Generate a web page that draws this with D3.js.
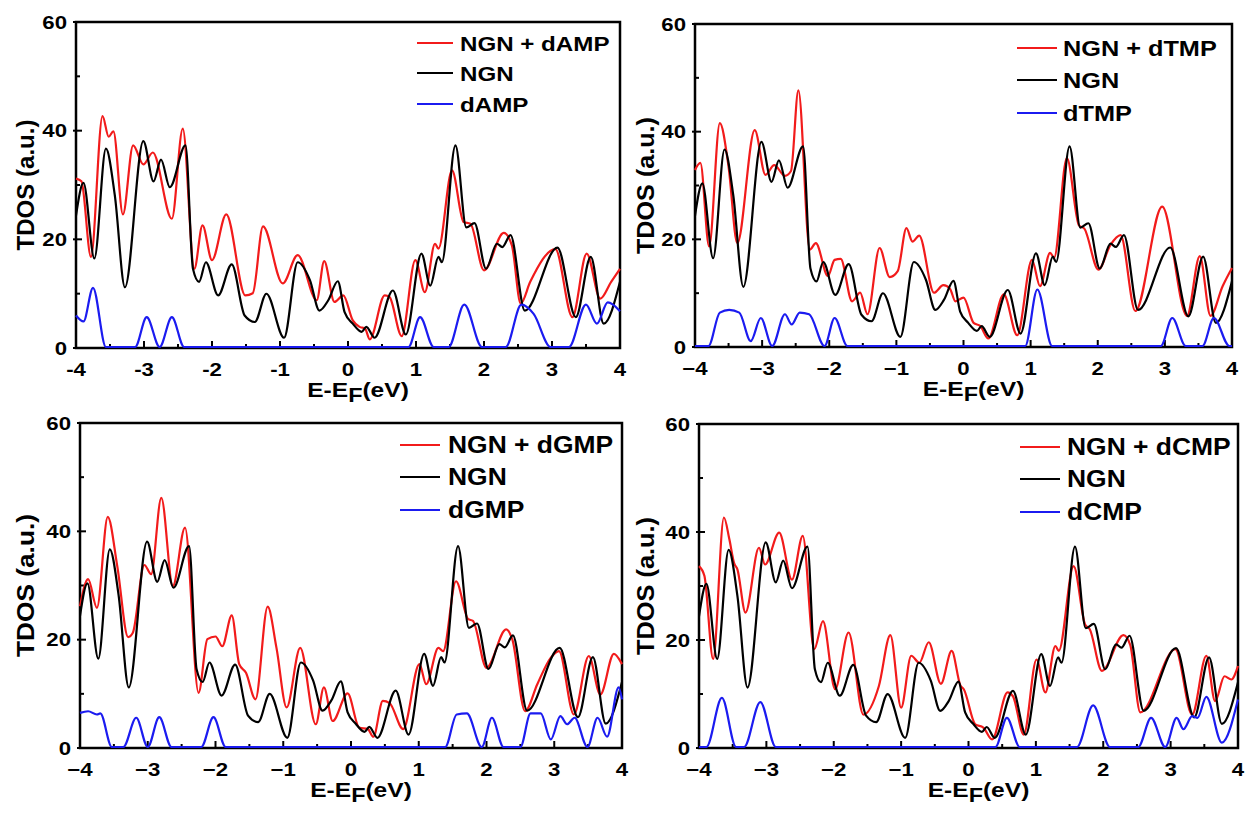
<!DOCTYPE html>
<html>
<head>
<meta charset="utf-8">
<script src="https://cdn.jsdelivr.net/npm/d3@7"></script>
<style>
  body { margin: 0; background: #fff; }
  svg { display: block; }
  text { font-family: "Liberation Sans", Arial, Helvetica, sans-serif; font-weight: bold; fill: #000; }
</style>
</head>
<body>
<script>
// pristine NGN TDOS (same black curve in every panel), [E-EF, TDOS]
const ngn = [[-4,24.2],[-3.89,30.2],[-3.73,16.3],[-3.56,36.5],[-3.43,28],[-3.28,11],[-3.01,37.9],[-2.86,30.5],
  [-2.75,34.5],[-2.62,29.4],[-2.39,37.1],[-2.28,14.4],[-2.19,12],[-2.09,15.6],[-1.91,9.5],[-1.71,15.2],[-1.52,5.8],
  [-1.37,4.6],[-1.2,9.8],[-0.94,1.7],[-0.74,15.6],[-0.56,12.3],[-0.42,6.7],[-0.29,8.6],[-0.15,12.1],[-0.05,6.4],
  [0.07,4.3],[0.2,2.8],[0.27,3.7],[0.39,1.7],[0.66,10.4],[0.85,2.3],[1.08,17.2],[1.21,11.3],[1.33,16.6],[1.38,15.6],
  [1.58,37.1],[1.74,22],[1.86,22.8],[2.03,14.4],[2.19,19],[2.27,18.4],[2.39,20.6],[2.6,6.7],[3.08,18.3],[3.35,5.5],
  [3.57,16.6],[3.76,4.3],[4,12]];

const dampTotal = [[-4,31],[-3.92,30.5],[-3.78,16.6],[-3.61,42.5],[-3.52,38.7],[-3.45,39.7],[-3.31,24.4],[-3.16,37.1],
  [-3.01,33.6],[-2.87,35.8],[-2.59,23.6],[-2.43,40.2],[-2.26,14.4],[-2.14,22.4],[-2,16],[-1.79,24.4],[-1.51,9.5],
  [-1.4,9.9],[-1.25,22.2],[-0.96,11.7],[-0.74,16.9],[-0.46,8.6],[-0.35,15.8],[-0.2,8.3],[-0.07,9.5],[0.07,4.9],
  [0.17,3.7],[0.25,3.4],[0.32,1.4],[0.54,9.5],[0.61,9.2],[0.79,2],[0.99,16],[1.13,10.1],[1.28,19],[1.33,18.1],
  [1.53,32.5],[1.7,23],[1.8,22.7],[2,14.1],[2.29,21],[2.41,18.7],[2.54,8],[2.68,12],[3.05,18],[3.3,5.5],[3.51,17.2],
  [3.71,8.9],[3.87,12],[4,14.4]];
const dampPdos = [[-4,5.8],[-3.89,4.7],[-3.75,10.9],[-3.56,0],[-3.13,0],[-2.96,5.5],[-2.77,0],[-2.59,5.5],[-2.41,0],
  [0.89,0],[1.06,5.5],[1.26,0],[1.48,0],[1.71,7.8],[1.97,0],[2.32,0],[2.55,7.8],[2.73,6.1],[2.98,0],[3.25,0],
  [3.5,7.8],[3.66,4.3],[3.82,8.2],[4,6.6]];

const dtmpTotal = [[-4,32.7],[-3.92,34],[-3.79,18.5],[-3.63,41.4],[-3.5,33.3],[-3.37,19.1],[-3.11,40.1],[-2.95,31.8],
  [-2.82,33.6],[-2.66,31.6],[-2.57,32.5],[-2.46,47.5],[-2.29,17.9],[-2.2,19.1],[-2.02,13],[-1.92,16],[-1.83,16.2],
  [-1.66,8.3],[-1.54,9.9],[-1.43,5.9],[-1.25,18.2],[-1.1,12.8],[-0.98,13.9],[-0.85,21.9],[-0.76,19.4],[-0.66,20.5],
  [-0.44,9.9],[-0.3,11.3],[-0.2,10.6],[-0.12,8.3],[0,9],[0.15,4.3],[0.25,3.7],[0.37,1.4],[0.6,9.6],[0.8,2],
  [1.02,16],[1.14,11.1],[1.29,17.3],[1.35,16.4],[1.54,34.9],[1.72,22.4],[1.8,21.8],[2.01,14.2],[2.19,18.8],
  [2.34,20.6],[2.56,6.5],[2.96,25.9],[3.33,5.6],[3.52,16.7],[3.68,5.6],[3.86,11.1],[4,14.5]];
const dtmpPdos = [[-4,0],[-3.8,0],[-3.63,6.2],[-3.49,6.7],[-3.34,6.2],[-3.17,0.9],[-3.02,5.2],[-2.85,0],[-2.66,5.9],
  [-2.56,4],[-2.44,6.2],[-2.3,5.9],[-2.07,0],[-1.92,5.2],[-1.73,0],[0.92,0],[1.1,10.5],[1.32,0],[2.94,0],[3.11,5.2],
  [3.31,0],[3.56,0],[3.73,5.2],[3.96,0],[4,0]];

const dgmpTotal = [[-4,26],[-3.88,31],[-3.75,25.7],[-3.59,42.5],[-3.45,33.4],[-3.29,20.3],[-3.22,21.1],[-3.05,33.6],
  [-2.95,31.9],[-2.8,46],[-2.63,29.7],[-2.45,40.5],[-2.25,10],[-2.12,19.9],[-2,20.4],[-1.9,18.6],[-1.76,24.3],
  [-1.65,15.3],[-1.55,13.7],[-1.41,8.8],[-1.23,25.9],[-1.1,18.3],[-0.95,7.3],[-0.75,18.3],[-0.52,4.2],[-0.4,11],
  [-0.27,4.8],[-0.05,9.9],[0.12,3.6],[0.25,3.3],[0.33,1.9],[0.47,8.5],[0.57,8.1],[0.77,3.3],[1.01,15.3],[1.11,11.6],
  [1.29,18.3],[1.36,17.7],[1.55,30.6],[1.73,23.6],[1.8,23.3],[2,14.6],[2.29,21.7],[2.38,19.9],[2.57,6.6],[2.75,11.6],
  [2.95,16.5],[3.07,17.7],[3.29,6],[3.51,16.8],[3.68,9.7],[3.88,17.2],[4,15.3]];
const dgmpPdos = [[-4,6.3],[-3.88,6.6],[-3.75,6],[-3.7,6.2],[-3.53,0],[-3.36,0],[-3.17,5.4],[-3,0],[-2.83,5.5],
  [-2.65,0],[-2.21,0],[-2.03,5.5],[-1.85,0],[1.39,0],[1.56,6],[1.71,6.2],[1.93,0],[2.08,5.4],[2.25,0],[2.5,0],
  [2.65,6.2],[2.8,6.2],[2.95,1.4],[3.09,5.7],[3.19,4.2],[3.3,5.4],[3.49,0],[3.64,5.4],[3.78,1.9],[3.95,11],[4,8.8]];

const dcmpTotal = [[-4,33.5],[-3.92,31.7],[-3.79,16.3],[-3.63,42.5],[-3.55,38.5],[-3.48,34.1],[-3.43,32.9],[-3.31,24.9],
  [-3.11,36.9],[-3.02,33.8],[-2.81,39.7],[-2.62,31],[-2.46,39.1],[-2.29,18.1],[-2.16,23.3],[-1.98,10.7],[-1.78,21.2],
  [-1.56,6],[-1.33,11.3],[-1.16,20.7],[-1,7.3],[-0.85,16.9],[-0.73,15.6],[-0.59,19.4],[-0.41,11.7],[-0.25,17.8],
  [-0.12,11.4],[-0.07,10.7],[0.1,4.2],[0.22,3.6],[0.35,1.4],[0.58,10.1],[0.66,9.4],[0.82,2.3],[1.01,16.2],[1.14,10.1],
  [1.29,18.7],[1.34,17.8],[1.56,33.5],[1.73,22.7],[1.8,21.8],[1.98,14.1],[2.3,20.7],[2.4,18.9],[2.55,6.4],[3.07,18.1],
  [3.32,6],[3.53,16.9],[3.66,8.5],[3.8,13.1],[3.9,12.5],[4,15]];
const dcmpPdos = [[-4,0],[-3.89,0],[-3.66,9.1],[-3.45,0],[-3.33,0],[-3.09,8.3],[-2.86,0],[0.4,0],[0.57,5.4],[0.76,0],
  [1.61,0],[1.85,7.7],[2.1,0],[2.52,0],[2.71,5.4],[2.92,0],[3.09,5.4],[3.19,3.3],[3.32,5.7],[3.4,5.4],[3.53,9.3],
  [3.76,0.8],[4,8.8]];

const xTicks = [-4, -3, -2, -1, 0, 1, 2, 3, 4];
const yTicks = [0, 20, 40, 60];
const molecules = ["dAMP", "dTMP", "dGMP", "dCMP"];

const RED = "#f21b1b", BLACK = "#000", BLUE = "#1b1bf0";

// frame boxes and a few layout tweaks per panel
const panels = [
  { total: dampTotal, pdos: dampPdos, left: 76,  right: 620,  top: 22,  bottom: 348, minus: "-",
    leg: { x1: -203, x2: -167, tx: -160, rows: [21, 51, 82], fs: 21 }, ytx: 25, ylen: 131 },
  { total: dtmpTotal, pdos: dtmpPdos, left: 695, right: 1232, top: 24,  bottom: 347, minus: "\u2212",
    leg: { x1: -215, x2: -175, tx: -169, rows: [24, 56, 89], fs: 22 }, ytx: 645, ylen: 137 },
  { total: dgmpTotal, pdos: dgmpPdos, left: 80,  right: 622,  top: 423, bottom: 748, minus: "\u2212",
    leg: { x1: -222, x2: -182, tx: -174, rows: [22, 54, 87], fs: 23 }, ytx: 25, ylen: 143 },
  { total: dcmpTotal, pdos: dcmpPdos, left: 699, right: 1238, top: 424, bottom: 748, minus: "\u2212",
    leg: { x1: -218, x2: -178, tx: -171, rows: [23, 55, 88], fs: 23 }, ytx: 645, ylen: 138 }
];

const svg = d3.select("body").append("svg").attr("width", 1246).attr("height", 813);
svg.append("rect").attr("width", 1246).attr("height", 813).attr("fill", "#fff");

function stretchText(g, x, y, str, size, anchor, sx) {
  return g.append("text")
    .attr("transform", `translate(${x},${y}) scale(${sx},1)`)
    .attr("text-anchor", anchor)
    .attr("font-size", size)
    .text(str);
}

panels.forEach((p, i) => {
  const x = d3.scaleLinear().domain([-4, 4]).range([p.left, p.right]);
  const y = d3.scaleLinear().domain([0, 60]).range([p.bottom, p.top]);
  const g = svg.append("g");

  // ticks
  xTicks.forEach(t => {
    g.append("line").attr("x1", x(t)).attr("x2", x(t)).attr("y1", p.bottom).attr("y2", p.bottom - 7)
      .attr("stroke", "#000").attr("stroke-width", 2);
    const lab = t < 0 ? p.minus + Math.abs(t) : String(t);
    stretchText(g, x(t), p.bottom + 28, lab, 18.5, "middle", 1.2);
  });
  d3.range(-3.5, 4, 1).forEach(t => {
    g.append("line").attr("x1", x(t)).attr("x2", x(t)).attr("y1", p.bottom).attr("y2", p.bottom - 4)
      .attr("stroke", "#000").attr("stroke-width", 2);
  });
  yTicks.forEach(t => {
    g.append("line").attr("x1", p.left - 3).attr("x2", p.left + 6).attr("y1", y(t)).attr("y2", y(t))
      .attr("stroke", "#000").attr("stroke-width", 2);
    stretchText(g, p.left - 9, y(t) + 6.5, String(t), 18.5, "end", 1.2);
  });
  [10, 30, 50].forEach(t => {
    g.append("line").attr("x1", p.left).attr("x2", p.left + 4).attr("y1", y(t)).attr("y2", y(t))
      .attr("stroke", "#000").attr("stroke-width", 2);
  });

  // frame
  g.append("rect").attr("x", p.left).attr("y", p.top)
    .attr("width", p.right - p.left).attr("height", p.bottom - p.top)
    .attr("fill", "none").attr("stroke", "#000").attr("stroke-width", 2.5);

  // curves
  const line = d3.line().x(d => x(d[0])).y(d => y(d[1])).curve(d3.curveMonotoneX);
  const curves = g.append("g").attr("transform", "translate(0,-1)").attr("fill", "none")
    .attr("stroke-width", 2.2).attr("stroke-linejoin", "round");
  curves.append("path").attr("d", line(p.total)).attr("stroke", RED);
  curves.append("path").attr("d", line(ngn)).attr("stroke", BLACK);
  curves.append("path").attr("d", line(p.pdos)).attr("stroke", BLUE);

  // legend
  const names = ["NGN + " + molecules[i], "NGN", molecules[i]];
  [RED, BLACK, BLUE].forEach((c, k) => {
    const ry = p.top + p.leg.rows[k];
    g.append("line").attr("x1", p.right + p.leg.x1).attr("x2", p.right + p.leg.x2)
      .attr("y1", ry).attr("y2", ry).attr("stroke", c).attr("stroke-width", 2);
    stretchText(g, p.right + p.leg.tx, ry + p.leg.fs * 0.36, names[k], p.leg.fs, "start", 1.15);
  });

  // axis titles
  g.append("text")
    .attr("transform", `translate(${p.ytx + 8.5},${(p.top + p.bottom) / 2}) rotate(-90)`)
    .attr("text-anchor", "middle").attr("font-size", 23)
    .attr("textLength", p.ylen).attr("lengthAdjust", "spacingAndGlyphs")
    .text("TDOS (a.u.)");

  const xt = g.append("text")
    .attr("transform", `translate(${(p.left + p.right) / 2 + 10},${p.bottom + 49}) scale(1.17,1)`)
    .attr("text-anchor", "middle").attr("font-size", 21);
  xt.append("tspan").text("E-E");
  xt.append("tspan").attr("dy", 5).attr("font-size", 20).text("F");
  xt.append("tspan").attr("dy", -5).text("(eV)");
});
</script>
</body>
</html>
